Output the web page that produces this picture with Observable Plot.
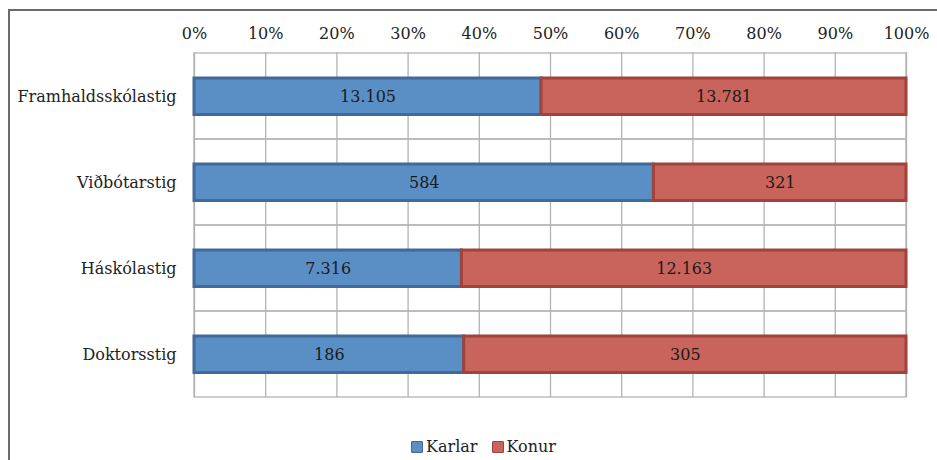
<!DOCTYPE html>
<html>
<head>
<meta charset="utf-8">
<script src="https://cdn.jsdelivr.net/npm/d3@7"></script>
<script src="https://cdn.jsdelivr.net/npm/@observablehq/plot@0.6"></script>
<style>
  html, body { margin: 0; padding: 0; background: #fff; }
  body { width: 937px; height: 460px; position: relative; overflow: hidden; font-family: "DejaVu Serif", serif; }
  #frame { position: absolute; left: 8px; top: 9px; width: 1000px; height: 500px; border-left: 2px solid #6a6a6a; border-top: 2px solid #6a6a6a; pointer-events: none; }
  #chart { position: absolute; left: 0; top: 0; }
  #legend { position: absolute; left: 0; top: 437px; width: 937px; display: flex; justify-content: center; gap: 14px; font-size: 16px; color: #222; padding-left: 30px; box-sizing: border-box; }
  #legend .item { display: flex; align-items: center; gap: 3px; }
  #legend .sw { width: 10px; height: 10px; border: 1.5px solid; border-radius: 1px; }
</style>
</head>
<body>
<div id="chart"></div>
<div id="legend"></div>
<div id="frame"></div>
<script>
const categories = ["Framhaldsskólastig", "Viðbótarstig", "Háskólastig", "Doktorsstig"];
const series = ["Karlar", "Konur"];
const karlar = [13105, 584, 7316, 186];
const konur = [13781, 321, 12163, 305];
const tickValues = [0, 0.1, 0.2, 0.3, 0.4, 0.5, 0.6, 0.7, 0.8, 0.9, 1];
const fills = {Karlar: "#5a8fc6", Konur: "#c8645b"};
const strokes = {Karlar: "#41699a", Konur: "#a0433d"};

const data = [];
series.forEach((s, si) => {
  const vals = si === 0 ? karlar : konur;
  categories.forEach((c, i) => data.push({cat: c, sex: s, value: vals[i]}));
});
const cells = categories.map(c => ({cat: c}));

const isl = d3.formatLocale({decimal: ",", thousands: ".", grouping: [3], currency: ["", " kr."]});
const fmt = isl.format(",d");

const chart = Plot.plot({
  width: 937,
  height: 426,
  marginLeft: 194,
  marginRight: 31,
  marginTop: 52,
  marginBottom: 29,
  style: {fontFamily: "DejaVu Serif, serif", fontSize: "16px", color: "#222", background: "transparent"},
  x: {type: "linear", domain: [0, 1], axis: null, label: null},
  y: {type: "band", domain: categories, padding: 0, axis: null, label: null},
  marks: [
    Plot.ruleX(tickValues, {stroke: "#b3b3b3", strokeWidth: 1.3, strokeOpacity: 1}),
    Plot.barX(cells, {x1: () => 0, x2: () => 1, y: "cat", fill: "none", stroke: "#b3b3b3", strokeWidth: 1.3}),
    Plot.barX(data, Plot.stackX({
      x: "value", y: "cat", z: "sex", offset: "normalize",
      fill: d => fills[d.sex], stroke: d => strokes[d.sex], strokeWidth: 3,
      insetTop: 25, insetBottom: 24.5
    })),
    Plot.textX(data, Plot.stackX({
      x: "value", y: "cat", z: "sex", offset: "normalize",
      text: d => fmt(d.value), fill: "#1a1a1a", fontSize: 16
    })),
    Plot.axisX(tickValues, {anchor: "top", label: null, tickFormat: d3.format(".0%"), tickSize: 0, tickPadding: 14, fontSize: 16, fill: "#222"}),
    Plot.axisY({anchor: "left", label: null, tickSize: 0, tickPadding: 18, fontSize: 16, fill: "#222"})
  ]
});
document.getElementById("chart").appendChild(chart);

const legend = document.getElementById("legend");
series.forEach(s => {
  const item = document.createElement("div");
  item.className = "item";
  const sw = document.createElement("span");
  sw.className = "sw";
  sw.style.background = fills[s];
  sw.style.borderColor = strokes[s];
  const t = document.createElement("span");
  t.textContent = s;
  item.appendChild(sw);
  item.appendChild(t);
  legend.appendChild(item);
});
</script>
</body>
</html>
